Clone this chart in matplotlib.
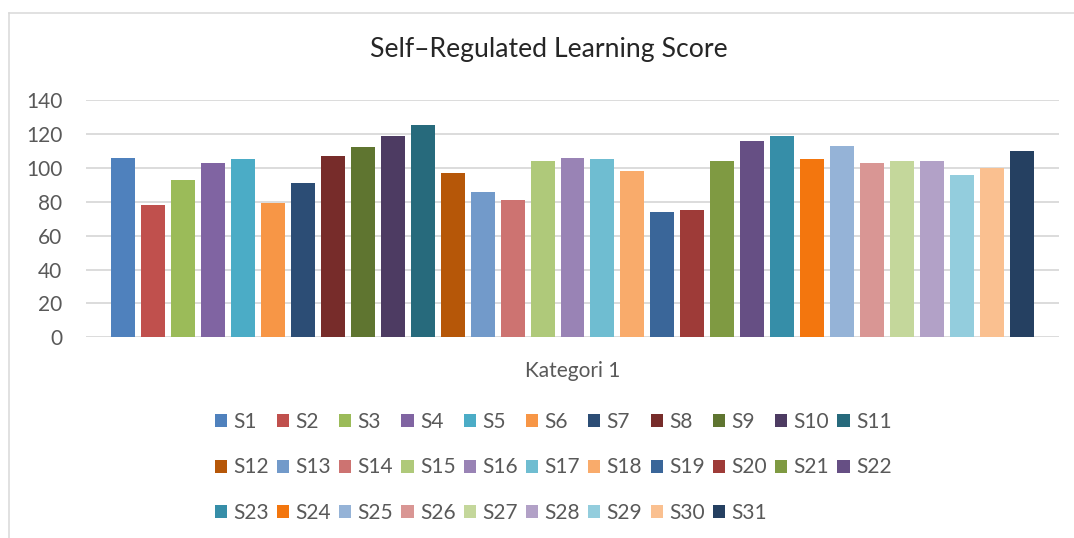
import matplotlib
matplotlib.use("Agg")
import matplotlib.pyplot as plt
from matplotlib.patches import Patch
from matplotlib.lines import Line2D

plt.rcParams['font.family'] = ['Lato', 'DejaVu Sans']

# data
series = ['S%d' % (i + 1) for i in range(31)]
scores = [106, 78, 93, 103, 105, 79, 91, 107, 112, 119, 125,
          97, 86, 81, 104, 106, 105, 98, 74, 75, 104, 116,
          119, 105, 113, 103, 104, 104, 96, 100, 110]
category = 'Kategori 1'
colors = ['#4F81BD', '#C0504D', '#9BBB59', '#8064A2', '#4BACC6', '#F79646',
          '#2C4D75', '#772C2A', '#5F7530', '#4D3B62', '#276A7C', '#B65708',
          '#729ACA', '#CD7371', '#AFC97A', '#9983B5', '#6FBDD1', '#F9AB6B',
          '#3A6699', '#9E3B38', '#7F9A42', '#664F84', '#368EA8', '#F3760E',
          '#95B3D7', '#D99694', '#C4D79B', '#B2A1C7', '#93CDDD', '#FAC090',
          '#254061']

W, H = 1074, 538
fig = plt.figure(figsize=(W / 100, H / 100), dpi=100)

# outer chart border (only left and top visible)
grey = '#D9D9D9'
fig.add_artist(Line2D([9 / W, 9 / W], [0, 1 - 13 / H], color=grey, lw=1.1, transform=fig.transFigure))
fig.add_artist(Line2D([9 / W, 1], [1 - 13 / H, 1 - 13 / H], color=grey, lw=1.1, transform=fig.transFigure))

ax = fig.add_axes([86 / W, 1 - 337.3 / H, (1059 - 86) / W, (337.3 - 100) / H])

x = list(range(len(scores)))
ax.bar(x, scores, width=0.8, color=colors, zorder=3)

ax.set_xlim(-1.23, 30 + 1.23)
ax.set_ylim(0, 140)
ax.set_yticks(range(0, 141, 20))
ax.yaxis.grid(True, color=grey, lw=1.3, zorder=0)
ax.set_xticks([15])
ax.set_xticklabels([category])
for s in ax.spines.values():
    s.set_visible(False)
ax.tick_params(axis='both', length=0, labelsize=15, labelcolor='#595959')
ax.tick_params(axis='y', pad=17)
ax.tick_params(axis='x', pad=17)

fig.text(549 / W, 1 - 50 / H, 'Self\u2013Regulated Learning Score', ha='center', va='center',
         fontsize=19.2, color='#262626')

# legend, filled row by row (11 per row)
handles = [Patch(facecolor=c, edgecolor='none') for c in colors]
ncol = 11
order = []
for c in range(ncol):
    r = 0
    while r * ncol + c < len(series):
        order.append(r * ncol + c)
        r += 1
fig.legend([handles[i] for i in order], [series[i] for i in order],
           loc='upper center', bbox_to_anchor=(553 / W, 1 - 412 / H), ncol=ncol,
           frameon=False, fontsize=15, labelcolor='#595959',
           handlelength=0.58, handleheight=0.58, handletextpad=0.3,
           columnspacing=0.4, labelspacing=1.22, borderpad=0, borderaxespad=0)

fig.savefig('out.png', dpi=100)
